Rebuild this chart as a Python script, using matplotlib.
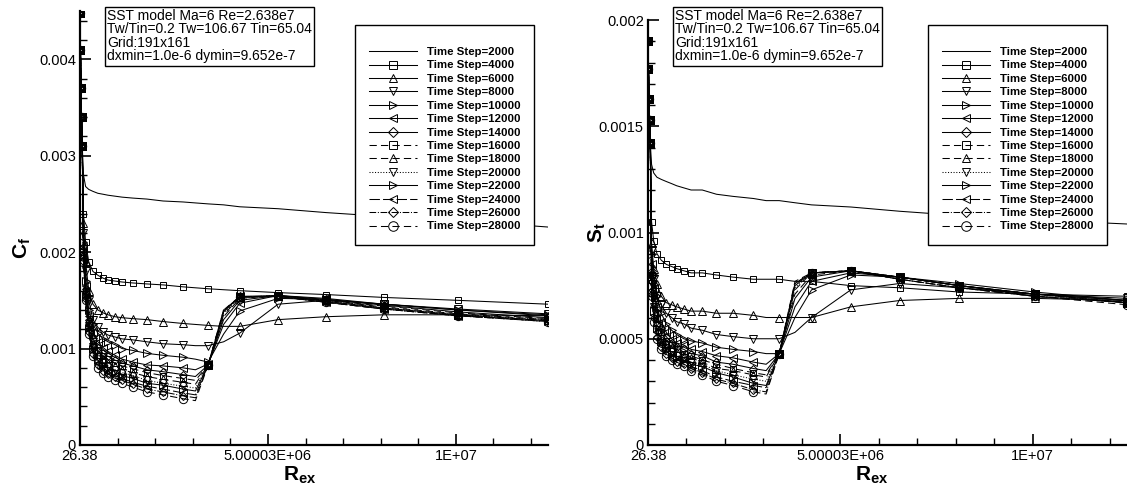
import matplotlib
matplotlib.use('Agg')
import matplotlib.pyplot as plt
from matplotlib.ticker import FixedLocator, MultipleLocator, FuncFormatter

plt.rcParams['font.family'] = ['Liberation Sans', 'DejaVu Sans']
plt.rcParams['mathtext.fontset'] = 'custom'
plt.rcParams['mathtext.rm'] = 'Liberation Sans'
plt.rcParams['mathtext.bf'] = 'Liberation Sans:bold'

### 数据 ###
time_steps = [2000, 4000, 6000, 8000, 10000, 12000, 14000,
              16000, 18000, 20000, 22000, 24000, 26000, 28000]

# 前缘附近的点 (所有时间步相同)
x_le = [26.38, 1.2e4, 2.6e4, 4.2e4, 6.0e4]
cf_le = [0.00448, 0.0041, 0.0037, 0.0034, 0.0031]
st_le = [0.0019, 0.00177, 0.00163, 0.00153, 0.00142]

# 下游网格点 Rex
x_main = [0.93e5, 1.49e5, 2.33e5, 3.44e5, 4.75e5, 6.14e5, 7.45e5, 9.31e5,
          1.12e6, 1.41e6, 1.78e6, 2.21e6, 2.74e6, 3.07e6, 3.41e6, 3.82e6,
          4.25e6, 5.27e6, 6.54e6, 8.09e6, 1.005e7, 1.245e7]

# 摩阻系数 Cf
cf_2000 = [0.0028, 0.00268, 0.00265, 0.00263, 0.00261, 0.0026, 0.00259, 0.00258, 0.00257, 0.00256, 0.00255,
           0.00253, 0.00252, 0.00251, 0.0025, 0.00249, 0.00247, 0.00245, 0.00241, 0.00237, 0.00233, 0.00226]
cf_4000 = [0.0024, 0.0021, 0.0019, 0.0018, 0.00176, 0.00173, 0.00171, 0.0017, 0.00169, 0.00168, 0.00167,
           0.00166, 0.00164, 0.00163, 0.00162, 0.00161, 0.0016, 0.00158, 0.00156, 0.00153, 0.0015, 0.00146]
cf_6000 = [0.0023, 0.0019, 0.0016, 0.00146, 0.0014, 0.00137, 0.00135, 0.00133, 0.00132, 0.00131, 0.0013,
           0.00128, 0.00126, 0.00125, 0.00124, 0.00123, 0.00123, 0.0013, 0.00133, 0.00135, 0.00135, 0.00134]
cf_8000 = [0.0022, 0.0018, 0.0015, 0.0013, 0.00122, 0.00117, 0.00114, 0.00112, 0.0011, 0.00109, 0.00107,
           0.00105, 0.00104, 0.00103, 0.00103, 0.00107, 0.00116, 0.00146, 0.0015, 0.00146, 0.00141, 0.00136]
cf_10000 = [0.0021, 0.0017, 0.0014, 0.00125, 0.00116, 0.0011, 0.00107, 0.00104, 0.001, 0.00098, 0.00095,
            0.00093, 0.00091, 0.00089, 0.00086, 0.00115, 0.00139, 0.00152, 0.00151, 0.00146, 0.0014, 0.00135]
cf_12000 = [0.00205, 0.00165, 0.00134, 0.00117, 0.00107, 0.00101, 0.00097, 0.00093, 0.00089, 0.00086, 0.00083,
            0.00082, 0.0008, 0.00078, 0.00084, 0.00125, 0.00147, 0.00155, 0.00152, 0.00146, 0.0014, 0.00134]
cf_14000 = [0.00202, 0.00162, 0.0013, 0.00111, 0.00101, 0.00095, 0.00092, 0.00088, 0.00085, 0.00082, 0.00078,
            0.00076, 0.00073, 0.00071, 0.00083, 0.0013, 0.0015, 0.00155, 0.00151, 0.00145, 0.00138, 0.00132]
cf_16000 = [0.002, 0.0016, 0.00127, 0.00108, 0.00098, 0.00092, 0.00089, 0.00085, 0.00082, 0.00079, 0.00075,
            0.00072, 0.00069, 0.00067, 0.00083, 0.00133, 0.00152, 0.00155, 0.0015, 0.00144, 0.00137, 0.00131]
cf_18000 = [0.00198, 0.00158, 0.00125, 0.00105, 0.00094, 0.00089, 0.00085, 0.00082, 0.00078, 0.00075, 0.00071,
            0.00068, 0.00065, 0.00063, 0.00083, 0.00135, 0.00153, 0.00155, 0.0015, 0.00143, 0.00136, 0.0013]
cf_20000 = [0.00196, 0.00156, 0.00123, 0.00102, 0.00091, 0.00086, 0.00082, 0.00078, 0.00075, 0.00072, 0.00067,
            0.00064, 0.00061, 0.00059, 0.00083, 0.00137, 0.00153, 0.00155, 0.00149, 0.00142, 0.00135, 0.0013]
cf_22000 = [0.00195, 0.00155, 0.00121, 0.001, 0.00088, 0.00083, 0.00079, 0.00076, 0.00072, 0.00069, 0.00064,
            0.00062, 0.00058, 0.00056, 0.00083, 0.00138, 0.00154, 0.00155, 0.00149, 0.00142, 0.00135, 0.00129]
cf_24000 = [0.00193, 0.00153, 0.00119, 0.00097, 0.00085, 0.0008, 0.00076, 0.00072, 0.00069, 0.00065, 0.00061,
            0.00058, 0.00054, 0.00052, 0.00083, 0.00139, 0.00154, 0.00154, 0.00148, 0.00141, 0.00134, 0.00129]
cf_26000 = [0.00191, 0.00151, 0.00117, 0.00094, 0.00083, 0.00077, 0.00074, 0.0007, 0.00067, 0.00063, 0.00058,
            0.00055, 0.00051, 0.00049, 0.00083, 0.0014, 0.00154, 0.00154, 0.00148, 0.00141, 0.00134, 0.00128]
cf_28000 = [0.0019, 0.0015, 0.00115, 0.00092, 0.0008, 0.00075, 0.00071, 0.00067, 0.00064, 0.0006, 0.00055,
            0.00052, 0.00048, 0.00046, 0.00083, 0.0014, 0.00153, 0.00154, 0.00148, 0.00141, 0.00134, 0.00128]

# 斯坦顿数 St
st_2000 = [0.00132, 0.00128, 0.00126, 0.00125, 0.00124, 0.00123, 0.00122, 0.00121, 0.0012, 0.0012, 0.00118,
           0.00117, 0.00116, 0.00115, 0.00115, 0.00114, 0.00113, 0.00112, 0.0011, 0.00108, 0.00106, 0.00104]
st_4000 = [0.00105, 0.00096, 0.0009, 0.00087, 0.00085, 0.00084, 0.00083, 0.00082, 0.00081, 0.00081, 0.0008,
           0.00079, 0.00078, 0.00078, 0.00078, 0.00077, 0.00077, 0.00075, 0.00074, 0.00072, 0.00071, 0.0007]
st_6000 = [0.00095, 0.00083, 0.00076, 0.0007, 0.00067, 0.00066, 0.00065, 0.00064, 0.00063, 0.00063, 0.00062,
           0.00062, 0.00061, 0.0006, 0.0006, 0.0006, 0.0006, 0.00065, 0.00068, 0.00069, 0.00069, 0.00068]
st_8000 = [0.00092, 0.00078, 0.0007, 0.00066, 0.00062, 0.0006, 0.00058, 0.00057, 0.00055, 0.00054, 0.00052,
           0.00051, 0.0005, 0.0005, 0.0005, 0.00053, 0.0006, 0.00073, 0.00076, 0.00074, 0.00071, 0.00069]
st_10000 = [0.0009, 0.0008, 0.0007, 0.00062, 0.00057, 0.00054, 0.00052, 0.0005, 0.00049, 0.00048, 0.00046,
            0.00045, 0.00044, 0.00043, 0.00043, 0.0006, 0.00073, 0.0008, 0.00079, 0.00076, 0.00072, 0.00068]
st_12000 = [0.00085, 0.00074, 0.00065, 0.00058, 0.00053, 0.0005, 0.00048, 0.00047, 0.00045, 0.00044, 0.00042,
            0.00041, 0.00039, 0.00038, 0.00043, 0.00065, 0.00077, 0.00081, 0.00079, 0.00075, 0.00071, 0.00068]
st_14000 = [0.00082, 0.00071, 0.00062, 0.00055, 0.00051, 0.00048, 0.00046, 0.00045, 0.00043, 0.00042, 0.00039,
            0.00038, 0.00036, 0.00035, 0.00043, 0.00069, 0.00079, 0.00082, 0.00079, 0.00075, 0.00071, 0.00068]
st_16000 = [0.0008, 0.00069, 0.0006, 0.00053, 0.00049, 0.00047, 0.00045, 0.00043, 0.00042, 0.0004, 0.00038,
            0.00036, 0.00034, 0.00033, 0.00043, 0.00071, 0.0008, 0.00082, 0.00079, 0.00075, 0.00071, 0.00067]
st_18000 = [0.00078, 0.00067, 0.00058, 0.00052, 0.00048, 0.00046, 0.00044, 0.00042, 0.00041, 0.00039, 0.00036,
            0.00035, 0.00033, 0.00032, 0.00043, 0.00073, 0.00081, 0.00082, 0.00079, 0.00075, 0.00071, 0.00067]
st_20000 = [0.00076, 0.00065, 0.00056, 0.0005, 0.00047, 0.00044, 0.00042, 0.00041, 0.00039, 0.00038, 0.00035,
            0.00033, 0.00031, 0.0003, 0.00043, 0.00074, 0.00081, 0.00082, 0.00079, 0.00075, 0.00071, 0.00067]
st_22000 = [0.00075, 0.00063, 0.00055, 0.00049, 0.00046, 0.00043, 0.00041, 0.0004, 0.00038, 0.00037, 0.00034,
            0.00032, 0.00029, 0.00028, 0.00043, 0.00075, 0.00081, 0.00082, 0.00079, 0.00075, 0.0007, 0.00067]
st_24000 = [0.00073, 0.00061, 0.00053, 0.00047, 0.00044, 0.00042, 0.0004, 0.00039, 0.00037, 0.00035, 0.00032,
            0.0003, 0.00028, 0.00027, 0.00043, 0.00076, 0.00081, 0.00082, 0.00078, 0.00074, 0.0007, 0.00067]
st_26000 = [0.00071, 0.0006, 0.00051, 0.00046, 0.00043, 0.00041, 0.00039, 0.00038, 0.00036, 0.00034, 0.00031,
            0.00029, 0.00026, 0.00025, 0.00043, 0.00076, 0.00081, 0.00082, 0.00078, 0.00074, 0.0007, 0.00067]
st_28000 = [0.0007, 0.00058, 0.0005, 0.00045, 0.00042, 0.0004, 0.00038, 0.00037, 0.00035, 0.00033, 0.0003,
            0.00028, 0.00025, 0.00024, 0.00043, 0.00077, 0.00081, 0.00082, 0.00078, 0.00074, 0.0007, 0.00066]

cf_series = [cf_2000, cf_4000, cf_6000, cf_8000, cf_10000, cf_12000, cf_14000,
             cf_16000, cf_18000, cf_20000, cf_22000, cf_24000, cf_26000, cf_28000]
st_series = [st_2000, st_4000, st_6000, st_8000, st_10000, st_12000, st_14000,
             st_16000, st_18000, st_20000, st_22000, st_24000, st_26000, st_28000]

x_ticks = [26.38, 5000026.38, 10000026.38]
x_ticklabels = ['26.38', '5.00003E+06', '1E+07']
info = 'SST model Ma=6 Re=2.638e7\nTw/Tin=0.2 Tw=106.67 Tin=65.04\nGrid:191x161\ndxmin=1.0e-6 dymin=9.652e-7'

# 线型 / 符号
styles = [('-', None, 0), ('-', 's', 5), ('-', '^', 5.5), ('-', 'v', 5.5), ('-', '>', 5.5),
          ('-', '<', 5.5), ('-', 'D', 4.5), ((0, (7, 4)), 's', 5), ((0, (7, 4)), '^', 5.5),
          (':', 'v', 5.5), ('-', '>', 5.5), ((0, (10, 3)), '<', 5.5), ('-.', 'D', 4.5),
          ((0, (7, 4)), 'o', 6)]

x_all = x_le + x_main
# 3.07e6 与 3.82e6 两点只连线不画符号
mark_idx = [i for i in range(len(x_all)) if i not in (len(x_le) + 13, len(x_le) + 15)]

W, H = 1127, 493
fig = plt.figure(figsize=(W / 100, H / 100), dpi=100)
ax1 = fig.add_axes([80 / W, 48 / H, 468 / W, 434 / H])
ax2 = fig.add_axes([648 / W, 48 / H, 479 / W, 425 / H])


def draw_panel(ax, le_vals, series, ymax, ymajor, yminor, leg_x):
    for step, vals, (ls, mk, ms) in zip(time_steps, series, styles):
        ax.plot(x_all, le_vals + vals, color='k', lw=0.75, ls=ls, marker=mk, ms=ms,
                mfc='none', mec='k', mew=0.7, markevery=mark_idx,
                label='Time Step=%d' % step)
    ax.set_xlim(26.38, x_main[-1])
    ax.set_ylim(0, ymax)
    for s in ['top', 'right']:
        ax.spines[s].set_visible(False)
    for s in ['left', 'bottom']:
        ax.spines[s].set_linewidth(1.6)
    ax.xaxis.set_major_locator(FixedLocator(x_ticks))
    ax.set_xticklabels(x_ticklabels)
    ax.xaxis.set_minor_locator(FixedLocator([k * 1e6 + 26.38 for k in range(1, 13)]))
    ax.yaxis.set_major_locator(MultipleLocator(ymajor))
    ax.yaxis.set_minor_locator(MultipleLocator(yminor))
    ax.yaxis.set_major_formatter(FuncFormatter(lambda v, p: '%g' % round(v, 6)))
    ax.tick_params(which='major', direction='in', length=8, width=1.2, labelsize=10.5, pad=3)
    ax.tick_params(which='minor', direction='in', length=5, width=1.0)
    leg = ax.legend(loc='upper left', bbox_to_anchor=(leg_x / W, 1 - 25 / H),
                    bbox_transform=fig.transFigure, fancybox=False, edgecolor='k',
                    framealpha=1, prop=dict(weight='bold', size=8.2), handlelength=4.2,
                    handletextpad=0.9, labelspacing=0.3, borderpad=1.2, borderaxespad=0,
                    numpoints=1, markerscale=1.15, title=' ', title_fontsize=4)
    leg.get_frame().set_linewidth(1.0)


draw_panel(ax1, cf_le, cf_series, 0.0045, 0.001, 0.0002, 355)
draw_panel(ax2, st_le, st_series, 0.002, 0.0005, 0.0001, 928)

box = dict(boxstyle='square,pad=0.18', fc='white', ec='k', lw=1.0)
fig.text(107 / W, 1 - 9 / H, info, va='top', ha='left', fontsize=10, linespacing=0.95, bbox=box)
fig.text(675 / W, 1 - 9 / H, info, va='top', ha='left', fontsize=10, linespacing=0.95, bbox=box)

fig.text(22 / W, 1 - 248 / H, r'$\mathbf{C_f}$', rotation=90, fontsize=15, ha='center', va='center')
fig.text(597 / W, 1 - 233 / H, r'$\mathbf{S_t}$', rotation=90, fontsize=15, ha='center', va='center')
fig.text(300 / W, 1 - 475 / H, r'$\mathbf{R_{ex}}$', fontsize=15, ha='center', va='center')
fig.text(872 / W, 1 - 475 / H, r'$\mathbf{R_{ex}}$', fontsize=15, ha='center', va='center')

fig.savefig('out.png', dpi=100)
